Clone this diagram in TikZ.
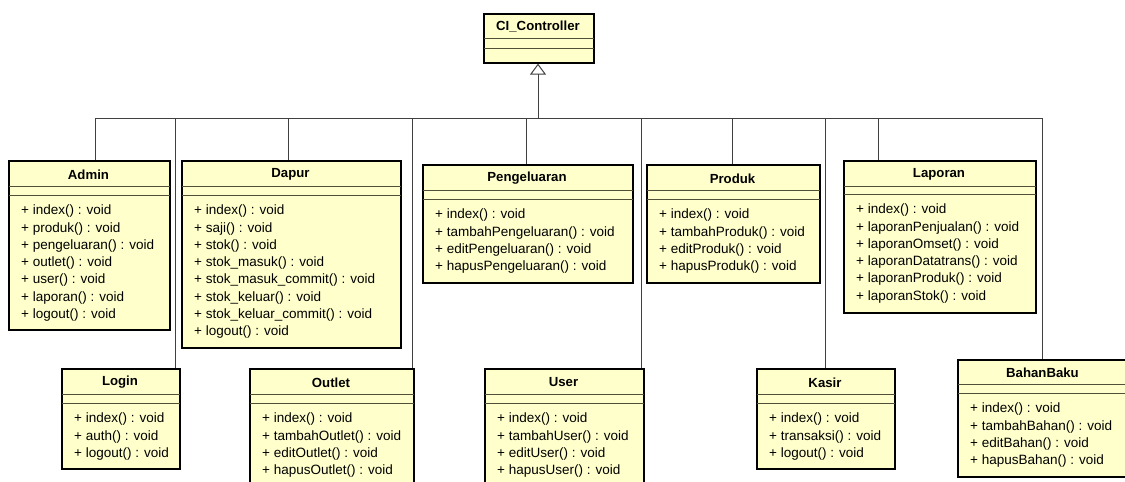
\documentclass[tikz,border=0pt]{standalone}
\usepackage{fontspec}
\setmainfont{Liberation Sans}
\usetikzlibrary{calc,arrows.meta}
\definecolor{classfill}{RGB}{255,255,204}
\definecolor{divcol}{RGB}{80,80,56}
\definecolor{linkcol}{RGB}{64,64,64}
\tikzset{
  classbox/.style={draw=black, line width=1.6pt, fill=classfill, inner sep=0pt, anchor=north west},
  divider/.style={draw=divcol, line width=1pt},
  classtitle/.style={font=\fontsize{13.2}{15}\selectfont\bfseries, inner sep=0pt, anchor=center},
  classops/.style={font=\fontsize{13.5}{17.3}\selectfont, inner sep=0pt, align=left, anchor=north west},
  link/.style={draw=linkcol, line width=1pt},
  inherit/.style={draw=linkcol, line width=1pt, -{Triangle[open, width=16pt, length=11pt, line width=1pt]}}
}
% #1 name, #2 x1, #3 y1, #4 x2, #5 y2, #6 div1, #7 div2, #8 title, #9 rows
\newcommand\umlclassbox[9]{%
  \node[classbox, minimum width={#4-#2}, minimum height={#5-#3}] (#1) at (#2,#3) {};
  \draw[divider] ($(#1.north west |- 0,#6)+(0.8,0)$) -- ($(#1.north east |- 0,#6)+(-0.8,0)$);
  \draw[divider] ($(#1.north west |- 0,#7)+(0.8,0)$) -- ($(#1.north east |- 0,#7)+(-0.8,0)$);
  \node[classtitle] (#1-t) at ({(#2+#4)/2},{(#3+#6)/2+1.5}) {#8};
  \node[classops] (#1-o) at ({#2+13},{#7+9.8}) {#9};
}
\begin{document}
\begin{tikzpicture}[x=1pt,y=-1pt]
\useasboundingbox (0,0) rectangle (1125,482);
\clip (0,0) rectangle (1125,482);
\fill[white] (0,0) rectangle (1125,482);

% superclass
\node[classbox, minimum width=110, minimum height=49] (ci) at (483,13) {};
\draw[divider] ($(ci.north west |- 0,38)+(0.8,0)$) -- ($(ci.north east |- 0,38)+(-0.8,0)$);
\draw[divider] ($(ci.north west |- 0,48)+(0.8,0)$) -- ($(ci.north east |- 0,48)+(-0.8,0)$);
\node[classtitle] (ci-t) at (538,27) {CI\_Controller};

% subclasses
\umlclassbox{admin}{8}{160}{169}{329}{186}{195}{Admin}{+ index() : void\\+ produk() : void\\+ pengeluaran() : void\\+ outlet() : void\\+ user() : void\\+ laporan() : void\\+ logout() : void}
\umlclassbox{dapur}{181}{160}{400}{347}{186}{195}{Dapur}{+ index() : void\\+ saji() : void\\+ stok() : void\\+ stok\_masuk() : void\\+ stok\_masuk\_commit() : void\\+ stok\_keluar() : void\\+ stok\_keluar\_commit() : void\\+ logout() : void}
\umlclassbox{peng}{422}{164}{632}{282}{190}{199}{Pengeluaran}{+ index() : void\\+ tambahPengeluaran() : void\\+ editPengeluaran() : void\\+ hapusPengeluaran() : void}
\umlclassbox{produk}{646}{164}{819}{282}{190}{199}{Produk}{+ index() : void\\+ tambahProduk() : void\\+ editProduk() : void\\+ hapusProduk() : void}
\umlclassbox{laporan}{843}{160}{1035}{312}{186}{194}{Laporan}{+ index() : void\\+ laporanPenjualan() : void\\+ laporanOmset() : void\\+ laporanDatatrans() : void\\+ laporanProduk() : void\\+ laporanStok() : void}
\umlclassbox{login}{61}{368}{179}{468}{394}{403}{Login}{+ index() : void\\+ auth() : void\\+ logout() : void}
\umlclassbox{outlet}{249}{368}{413}{492}{394}{403}{Outlet}{+ index() : void\\+ tambahOutlet() : void\\+ editOutlet() : void\\+ hapusOutlet() : void}
\umlclassbox{user}{484}{368}{643}{492}{394}{403}{User}{+ index() : void\\+ tambahUser() : void\\+ editUser() : void\\+ hapusUser() : void}
\umlclassbox{kasir}{756}{368}{894}{468}{394}{403}{Kasir}{+ index() : void\\+ transaksi() : void\\+ logout() : void}
\umlclassbox{bahan}{957}{359}{1128}{476}{384}{393}{BahanBaku}{+ index() : void\\+ tambahBahan() : void\\+ editBahan() : void\\+ hapusBahan() : void}

% inheritance tree
\coordinate (jci) at (538,118);
\coordinate (jadmin) at (95,118);
\coordinate (jlogin) at (175,118);
\coordinate (jdapur) at (288,118);
\coordinate (joutlet) at (412,118);
\coordinate (jpeng) at (526,118);
\coordinate (juser) at (641,118);
\coordinate (jprod) at (732,118);
\coordinate (jkasir) at (825,118);
\coordinate (jlap) at (878,118);
\coordinate (jbahan) at (1042,118);

\draw[link] (jadmin) -- (jbahan);
\draw[inherit] (jci) -- (ci.south -| jci);
\draw[link] (jadmin) -- (admin.north -| jadmin);
\draw[link] (jlogin) -- (login.north -| jlogin);
\draw[link] (jdapur) -- (dapur.north -| jdapur);
\draw[link] (joutlet) -- (outlet.north -| joutlet);
\draw[link] (jpeng) -- (peng.north -| jpeng);
\draw[link] (juser) -- (user.north -| juser);
\draw[link] (jprod) -- (produk.north -| jprod);
\draw[link] (jkasir) -- (kasir.north -| jkasir);
\draw[link] (jlap) -- (laporan.north -| jlap);
\draw[link] (jbahan) -- (bahan.north -| jbahan);
\end{tikzpicture}
\end{document}
